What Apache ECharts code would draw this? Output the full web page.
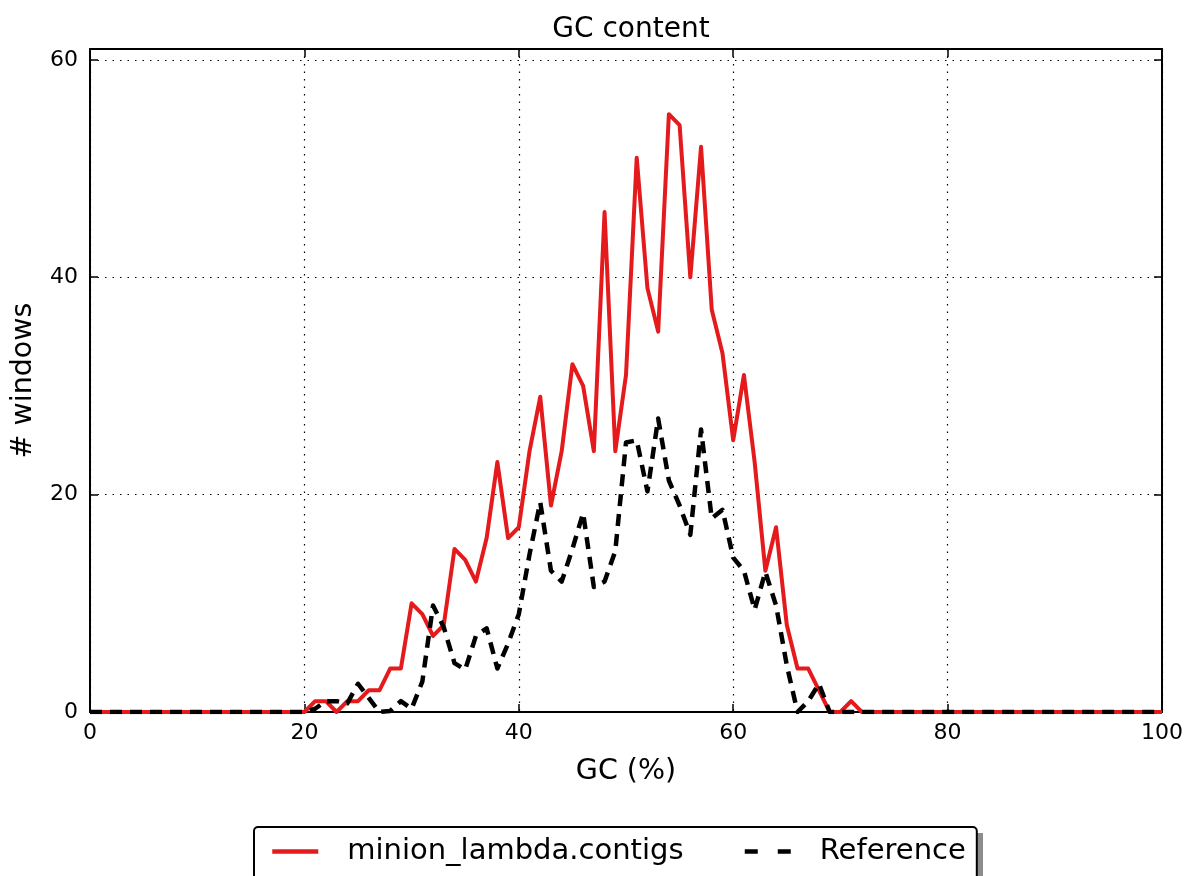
<!DOCTYPE html>
<html>
<head>
<meta charset="utf-8">
<title>GC content</title>
<script src="https://cdn.jsdelivr.net/npm/echarts@6/dist/echarts.min.js"></script>
<style>
  html, body { margin: 0; padding: 0; background: #ffffff; }
  #chart { width: 1186px; height: 876px; }
</style>
</head>
<body>
<div id="chart"></div>
<script>
// GC bins (percent)
const gcBins = [
  0, 1, 2, 3, 4, 5, 6, 7, 8, 9,
  10, 11, 12, 13, 14, 15, 16, 17, 18, 19,
  20, 21, 22, 23, 24, 25, 26, 27, 28, 29,
  30, 31, 32, 33, 34, 35, 36, 37, 38, 39,
  40, 41, 42, 43, 44, 45, 46, 47, 48, 49,
  50, 51, 52, 53, 54, 55, 56, 57, 58, 59,
  60, 61, 62, 63, 64, 65, 66, 67, 68, 69,
  70, 71, 72, 73, 74, 75, 76, 77, 78, 79,
  80, 81, 82, 83, 84, 85, 86, 87, 88, 89,
  90, 91, 92, 93, 94, 95, 96, 97, 98, 99,
  100
];

// number of windows per GC bin, assembly
const contigsWindows = [
  0, 0, 0, 0, 0, 0, 0, 0, 0, 0,
  0, 0, 0, 0, 0, 0, 0, 0, 0, 0,
  0, 1, 1, 0, 1, 1, 2, 2, 4, 4,
  10, 9, 7, 8, 15, 14, 12, 16, 23, 16,
  17, 24, 29, 19, 24, 32, 30, 24, 46, 24,
  31, 51, 39, 35, 55, 54, 40, 52, 37, 33,
  25, 31, 23, 13, 17, 8, 4, 4, 2, 0,
  0, 1, 0, 0, 0, 0, 0, 0, 0, 0,
  0, 0, 0, 0, 0, 0, 0, 0, 0, 0,
  0, 0, 0, 0, 0, 0, 0, 0, 0, 0,
  0
];

// number of windows per GC bin, reference genome
const referenceWindows = [
  0, 0, 0, 0, 0, 0, 0, 0, 0, 0,
  0, 0, 0, 0, 0, 0, 0, 0, 0, 0,
  0, 0.3, 1, 1, 0.8, 2.6, 1.3, 0, 0.1, 1,
  0.3, 2.8, 9.8, 7.8, 4.5, 3.9, 7, 7.7, 4, 6.3,
  9, 14.5, 19.3, 13, 12, 15, 18.3, 11.5, 12, 14.8,
  24.8, 25, 20.3, 27, 21.3, 19, 16.3, 26, 17.8, 18.6,
  14.2, 13, 9.4, 12.9, 9.8, 4.3, 0, 1, 2.6, 0,
  0, 0, 0, 0, 0, 0, 0, 0, 0, 0,
  0, 0, 0, 0, 0, 0, 0, 0, 0, 0,
  0, 0, 0, 0, 0, 0, 0, 0, 0, 0,
  0
];

const seriesNames = ['minion_lambda.contigs', 'Reference'];
const xTicks = [0, 20, 40, 60, 80, 100];
const yTicks = [0, 20, 40, 60];

const FONT = 'DejaVu Sans';
const pairs = (ys) => gcBins.map((x, i) => [x, ys[i]]);

const chart = echarts.init(document.getElementById('chart'), null, { renderer: 'canvas' });

const frameLine = { show: true, onZero: false, lineStyle: { color: '#000', width: 2 } };
const tickStyle = { show: true, inside: true, length: 8, lineStyle: { color: '#000', width: 1.5 } };
const gridDots = { show: true, lineStyle: { color: '#000', width: 1.2, type: [1.5, 6] } };

chart.setOption({
  animation: false,
  backgroundColor: '#ffffff',
  title: {
    text: 'GC content',
    left: 626,
    top: 11,
    textAlign: 'center',
    textStyle: { fontFamily: FONT, fontSize: 28, fontWeight: 'normal', color: '#000' }
  },
  grid: { left: 90, right: 24, top: 49, bottom: 164, containLabel: false },
  // drop shadow behind the legend frame
  graphic: [
    {
      type: 'rect', z: 0, silent: true,
      shape: { x: 260, y: 833, width: 723, height: 60 },
      style: { fill: '#8c8c8c' }
    }
  ],
  legend: {
    data: [
      { name: seriesNames[0] },
      { name: seriesNames[1], lineStyle: { type: [13, 20] } }
    ],
    left: 254,
    top: 827,
    orient: 'horizontal',
    itemWidth: 46,
    itemHeight: 14,
    itemGap: 59,
    padding: [10, 11, 22, 16],
    borderColor: '#000',
    borderWidth: 2,
    borderRadius: 4,
    backgroundColor: '#fff',
    z: 10,
    itemStyle: { opacity: 0 },
    lineStyle: { width: 4.5 },
    textStyle: { fontFamily: FONT, fontSize: 29, color: '#000', padding: [0, 0, 0, 24] }
  },
  xAxis: [
    {
      type: 'value', min: 0, max: 100, interval: 20, position: 'bottom',
      name: 'GC (%)', nameLocation: 'middle', nameGap: 45,
      nameTextStyle: { fontFamily: FONT, fontSize: 28.5, color: '#000' },
      axisLine: frameLine, axisTick: tickStyle,
      axisLabel: {
        fontFamily: FONT, fontSize: 22, color: '#000', margin: 10,
        formatter: (v) => (xTicks.includes(v) ? String(v) : '')
      },
      splitLine: gridDots
    },
    {
      type: 'value', min: 0, max: 100, interval: 20, position: 'top',
      axisLine: frameLine, axisTick: tickStyle, axisLabel: { show: false }, splitLine: { show: false }
    }
  ],
  yAxis: [
    {
      type: 'value', min: 0, max: 61, interval: 20, position: 'left',
      name: '# windows', nameLocation: 'middle', nameGap: 52, nameRotate: 90,
      nameTextStyle: { fontFamily: FONT, fontSize: 28.5, color: '#000' },
      axisLine: frameLine, axisTick: tickStyle,
      axisLabel: {
        fontFamily: FONT, fontSize: 22, color: '#000', margin: 12,
        formatter: (v) => (yTicks.includes(v) ? String(v) : '')
      },
      splitLine: gridDots
    },
    {
      type: 'value', min: 0, max: 61, interval: 20, position: 'right',
      axisLine: frameLine, axisTick: tickStyle, axisLabel: { show: false }, splitLine: { show: false }
    }
  ],
  series: [
    {
      name: seriesNames[0],
      type: 'line',
      data: pairs(contigsWindows),
      symbol: 'none',
      lineStyle: { color: '#e41a1c', width: 4, join: 'round' },
      itemStyle: { color: '#e41a1c' },
      z: 3
    },
    {
      name: seriesNames[1],
      type: 'line',
      data: pairs(referenceWindows),
      symbol: 'none',
      lineStyle: { color: '#000', width: 4.5, type: [12, 8], join: 'round' },
      itemStyle: { color: '#000' },
      z: 4
    }
  ]
});
</script>
</body>
</html>
